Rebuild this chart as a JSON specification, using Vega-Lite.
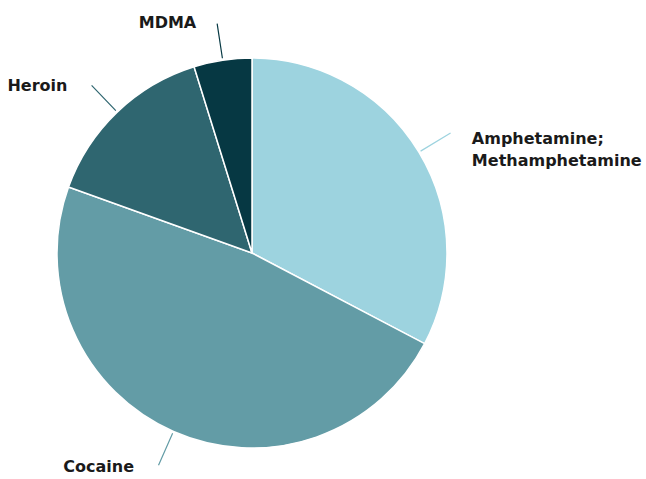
{
  "$schema": "https://vega.github.io/schema/vega-lite/v6.json",
  "autosize": "none",
  "width": 504,
  "height": 452,
  "padding": {"left": 0, "top": 27, "right": 142, "bottom": 0},
  "background": "white",
  "config": {"view": {"stroke": null}},
  "data": {
    "values": [
      {"drug": "Amphetamine; Methamphetamine", "share": 32.7},
      {"drug": "Cocaine", "share": 47.8},
      {"drug": "Heroin", "share": 14.7},
      {"drug": "MDMA", "share": 4.8}
    ]
  },
  "transform": [
    {"stack": "share", "groupby": [], "sort": [{"field": "drug", "order": "ascending"}], "as": ["s0", "s1"]},
    {"calculate": "(datum.s0 + datum.s1) / 2", "as": "mid"}
  ],
  "encoding": {
    "color": {
      "field": "drug",
      "type": "nominal",
      "legend": null,
      "scale": {
        "domain": ["Amphetamine; Methamphetamine", "Cocaine", "Heroin", "MDMA"],
        "range": ["#9dd3df", "#639ca6", "#2f6670", "#063843"]
      }
    }
  },
  "layer": [
    {
      "mark": {"type": "arc", "outerRadius": 195, "stroke": "white", "strokeWidth": 1.5},
      "encoding": {
        "theta": {"field": "s0", "type": "quantitative", "scale": {"type": "linear", "domain": [0, 100], "range": [0, 6.283185]}},
        "theta2": {"field": "s1"}
      }
    },
    {
      "mark": {"type": "arc", "outerRadius": 232, "innerRadius": 197, "strokeWidth": 1.2, "fillOpacity": 0},
      "encoding": {
        "theta": {"field": "mid", "type": "quantitative"},
        "theta2": {"field": "mid"},
        "stroke": {"field": "drug", "type": "nominal", "legend": null, "scale": {
          "domain": ["Amphetamine; Methamphetamine", "Cocaine", "Heroin", "MDMA"],
          "range": ["#9dd3df", "#639ca6", "#2f6670", "#063843"]
        }}
      }
    },
    {
      "transform": [{"filter": "datum.drug == 'Amphetamine; Methamphetamine'"}],
      "mark": {"type": "text", "radius": 230, "align": "left", "baseline": "middle", "dx": 23, "dy": 5, "font": "DejaVu Sans", "fontWeight": "bold", "fontSize": 16, "lineHeight": 22, "color": "#1a1a1a"},
      "encoding": {
        "theta": {"field": "mid", "type": "quantitative"},
        "text": {"value": ["Amphetamine;", "Methamphetamine"]},
        "color": {"value": "#1a1a1a"}
      }
    },
    {
      "transform": [{"filter": "datum.drug == 'Heroin' || datum.drug == 'MDMA'"}],
      "mark": {"type": "text", "radius": 238, "align": "right", "baseline": "middle", "dx": -20, "dy": 5, "font": "DejaVu Sans", "fontWeight": "bold", "fontSize": 16, "color": "#1a1a1a"},
      "encoding": {
        "theta": {"field": "mid", "type": "quantitative"},
        "text": {"field": "drug"},
        "color": {"value": "#1a1a1a"}
      }
    },
    {
      "transform": [{"filter": "datum.drug == 'Cocaine'"}],
      "mark": {"type": "text", "radius": 238, "align": "right", "baseline": "middle", "dx": -22, "dy": -4, "font": "DejaVu Sans", "fontWeight": "bold", "fontSize": 16, "color": "#1a1a1a"},
      "encoding": {
        "theta": {"field": "mid", "type": "quantitative"},
        "text": {"field": "drug"},
        "color": {"value": "#1a1a1a"}
      }
    }
  ]
}
